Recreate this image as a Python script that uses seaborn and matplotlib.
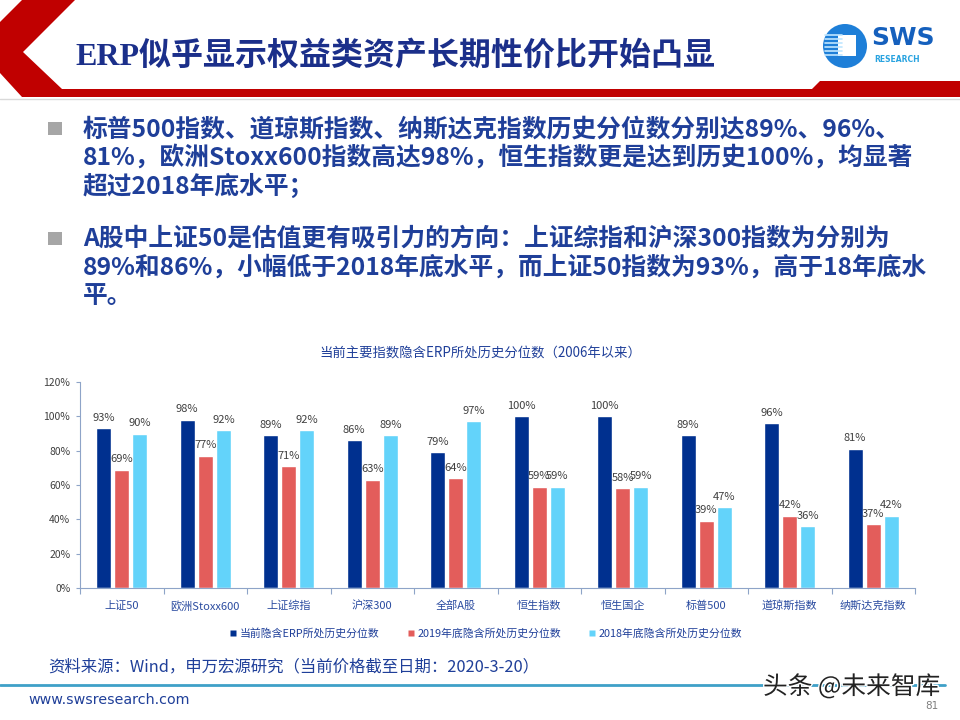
import matplotlib
matplotlib.use("Agg")
import matplotlib.pyplot as plt
import matplotlib.patches as mpatches
import matplotlib.patheffects as pe
from matplotlib.lines import Line2D
import numpy as np
import pandas as pd
import seaborn as sns

# ---------------- data ----------------
categories = ['上证50', '欧洲Stoxx600', '上证综指', '沪深300', '全部A股',
              '恒生指数', '恒生国企', '标普500', '道琼斯指数', '纳斯达克指数']
current_pct = [93, 98, 89, 86, 79, 100, 100, 89, 96, 81]
end2019_pct = [69, 77, 71, 63, 64, 59, 58, 39, 42, 37]
end2018_pct = [90, 92, 92, 89, 97, 59, 59, 47, 36, 42]
series_names = ['当前隐含ERP所处历史分位数', '2019年底隐含所处历史分位数', '2018年底隐含所处历史分位数']
yticks = [0, 20, 40, 60, 80, 100, 120]

title_text = 'ERP似乎显示权益类资产长期性价比开始凸显'
bullet1 = ['标普500指数、道琼斯指数、纳斯达克指数历史分位数分别达89%、96%、',
           '81%，欧洲Stoxx600指数高达98%，恒生指数更是达到历史100%，均显著',
           '超过2018年底水平；']
bullet2 = ['A股中上证50是估值更有吸引力的方向：上证综指和沪深300指数为分别为',
           '89%和86%，小幅低于2018年底水平，而上证50指数为93%，高于18年底水',
           '平。']
chart_title = '当前主要指数隐含ERP所处历史分位数（2006年以来）'
source_text = '资料来源：Wind，申万宏源研究（当前价格截至日期：2020-3-20）'

colors = ['#00308F', '#E35D5B', '#63D3FA']
text_blue = '#1F3F99'

# ---------------- style ----------------
sns.set_theme(style='white')
plt.rcParams['font.family'] = ['Noto Sans CJK SC', 'DejaVu Sans']
plt.rcParams['axes.unicode_minus'] = False

fig = plt.figure(figsize=(9.6, 7.2), dpi=100)

# background / slide decoration in pixel coords
bg = fig.add_axes([0, 0, 1, 1])
bg.set_xlim(0, 960)
bg.set_ylim(720, 0)
bg.axis('off')

red = '#C00000'
chevron = mpatches.Polygon([(22, 0), (75, 0), (23, 52), (62, 89), (812, 89), (820, 81),
                            (960, 81), (960, 97), (22, 97), (0, 73), (0, 22)],
                           closed=True, facecolor=red, edgecolor='none')
bg.add_patch(chevron)
bg.plot([0, 960], [98.5, 98.5], color='#D9D9D9', lw=1)

bg.text(75, 56, title_text, fontsize=23, fontweight='bold', color='#1B2F8A', va='center',
        family=['Liberation Serif', 'Noto Sans CJK SC'])

# logo
bg.add_patch(mpatches.Circle((845, 46), 22, facecolor='#1E7FD8', edgecolor='none'))
for yy in [35, 39, 43, 47, 51, 55]:
    bg.plot([825, 842], [yy, yy], color='#BFE6FF', lw=1.2)
bg.add_patch(mpatches.Rectangle((838, 35), 18, 21, facecolor='white', edgecolor='none'))
bg.text(871, 38, 'SWS', fontsize=18, fontweight='bold', color='#1560BD', va='center',
        family='DejaVu Sans')
bg.text(874, 60, 'RESEARCH', fontsize=5.5, fontweight='bold', color='#29A3E0', va='center',
        family='DejaVu Sans')

# bullets
for lines, y0 in [(bullet1, 129), (bullet2, 239)]:
    bg.add_patch(mpatches.Rectangle((48, y0 - 7), 14, 13, facecolor='#A6A6A6', edgecolor='none'))
    for i, ln in enumerate(lines):
        bg.text(83, y0 + i * 28.5, ln, fontsize=17.8, fontweight='bold', color=text_blue,
                va='center')

# chart title
bg.text(480, 354, chart_title, fontsize=9.6, color=text_blue, ha='center', va='center')

# source + footer
bg.text(48, 667, source_text, fontsize=11.8, color=text_blue, va='center')
bg.plot([0, 945], [685, 685], color='#3FA0C8', lw=2)
bg.text(28, 700, 'www.swsresearch.com', fontsize=10.3, color=text_blue, va='center',
        family='DejaVu Sans')
bg.text(925, 706, '81', fontsize=7.5, color='#7F7F7F', va='center', family='DejaVu Sans')
bg.text(763, 687, '头条 @未来智库', fontsize=17.8, color='#222222', va='center',
        path_effects=[pe.withStroke(linewidth=2, foreground='white')])

# ---------------- chart ----------------
ax = fig.add_axes([80 / 960, 1 - 588 / 720, 835 / 960, 206 / 720])
df = pd.DataFrame({'指数': categories,
                   series_names[0]: current_pct,
                   series_names[1]: end2019_pct,
                   series_names[2]: end2018_pct})
long = df.melt(id_vars='指数', var_name='序列', value_name='分位数')

sns.barplot(data=long, x='指数', y='分位数', hue='序列', palette=colors,
            width=0.65, gap=0.17, ax=ax, saturation=1)

for cont in ax.containers:
    ax.bar_label(cont, fmt='%.0f%%', padding=4, fontsize=8, color='#404040')

ax.set_ylim(0, 120)
ax.set_xlim(-0.5, len(categories) - 0.5)
ax.set_yticks(yticks)
ax.set_yticklabels([f'{v}%' for v in yticks], fontsize=7.5, color='#404040')
ax.set_xlabel('')
ax.set_ylabel('')
ax.tick_params(axis='x', length=0, pad=9, labelsize=8, labelcolor='#2A4BA0')
ax.tick_params(axis='y', left=True, length=3, width=0.8, color='#8EA4C8', pad=4)
ax.set_xticks(np.arange(-0.5, len(categories), 1.0), minor=True)
ax.tick_params(axis='x', which='minor', bottom=True, length=4, width=0.8, color='#8EA4C8')
for s in ['top', 'right']:
    ax.spines[s].set_visible(False)
for s in ['left', 'bottom']:
    ax.spines[s].set_color('#8EA4C8')
    ax.spines[s].set_linewidth(0.8)
ax.set_facecolor('none')

ax.get_legend().remove()
handles = [Line2D([], [], linestyle='none', marker='s', markersize=4.5,
                  markerfacecolor=c, markeredgecolor='none') for c in colors]
fig.legend(handles, series_names, loc='center', bbox_to_anchor=(486 / 960, 1 - 633 / 720), ncol=3,
           frameon=False, fontsize=7.8, handlelength=0.6, handletextpad=0.3,
           columnspacing=2.6, labelcolor=text_blue)

fig.savefig('out.png', dpi=100)
